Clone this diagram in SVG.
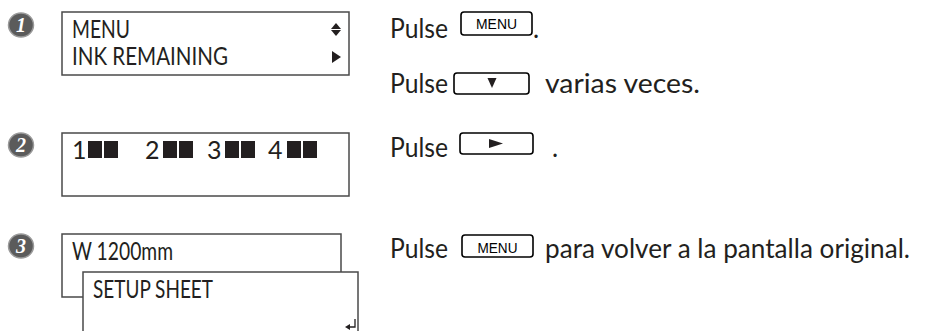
<svg xmlns="http://www.w3.org/2000/svg" width="928" height="331" viewBox="0 0 928 331">
<style>
.lcd{fill:#fff;stroke:#4a4a4a;stroke-width:1.5}
.lt{font-family:Lato,"Open Sans",sans-serif;font-size:25px;fill:#231f20}
.rt{font-family:Lato,"Open Sans",sans-serif;font-size:26px;fill:#231f20}
.key{fill:#fff;stroke:#000;stroke-width:1.6}
.kt{font-family:"Liberation Sans",Arial,sans-serif;font-size:15px;fill:#000}
.num{fill:#5b5b5b;stroke:#9a9a9a;stroke-width:1.5}
.nt{font-family:"Liberation Serif",serif;font-style:italic;font-weight:bold;font-size:20px;fill:#fff}
.blk{fill:#231f20}
</style>
<g id="step1">
<ellipse class="num" cx="21" cy="25" rx="12.5" ry="12"/>
<text class="nt" x="21" y="32" text-anchor="middle">1</text>
</g>
<g id="step2">
<ellipse class="num" cx="21" cy="145" rx="12.5" ry="12"/>
<text class="nt" x="21" y="152" text-anchor="middle">2</text>
</g>
<g id="step3">
<ellipse class="num" cx="21" cy="246" rx="12.5" ry="12"/>
<text class="nt" x="21" y="253" text-anchor="middle">3</text>
</g>
<g id="lcd1">
<rect class="lcd" x="62" y="12" width="287" height="63"/>
<text class="lt" x="72" y="38" textLength="58" lengthAdjust="spacingAndGlyphs">MENU</text>
<text class="lt" x="72" y="65" textLength="156" lengthAdjust="spacingAndGlyphs">INK REMAINING</text>
<polygon class="blk" points="336,23 331,29 341,29"/>
<polygon class="blk" points="331,30 341,30 336,36"/>
<polygon class="blk" points="332,51 332,63 341,57"/>
</g>
<g id="lcd2">
<rect class="lcd" x="62" y="133" width="287" height="63"/>
<text class="lt" x="72" y="159">1</text>
<rect class="blk" x="88" y="141" width="14" height="17"/>
<rect class="blk" x="104" y="141" width="14" height="17"/>
<text class="lt" x="145" y="159">2</text>
<rect class="blk" x="163" y="141" width="14" height="17"/>
<rect class="blk" x="179" y="141" width="14" height="17"/>
<text class="lt" x="207" y="159">3</text>
<rect class="blk" x="225" y="141" width="14" height="17"/>
<rect class="blk" x="241" y="141" width="14" height="17"/>
<text class="lt" x="268" y="159">4</text>
<rect class="blk" x="287" y="141" width="14" height="17"/>
<rect class="blk" x="303" y="141" width="14" height="17"/>
</g>
<g id="lcd3">
<path class="lcd" fill="none" d="M83,297 H62 V234 H341 V272"/>
<text class="lt" x="72" y="260" textLength="101" lengthAdjust="spacingAndGlyphs">W 1200mm</text>
<rect class="lcd" x="83" y="272" width="275" height="70"/>
<text class="lt" x="93" y="298" textLength="120" lengthAdjust="spacingAndGlyphs">SETUP SHEET</text>
<path d="M355,319 V327 H349" fill="none" stroke="#231f20" stroke-width="1.3"/>
<polygon class="blk" points="345,327 350,324 350,330"/>
</g>
<g id="instr1">
<text class="rt" x="390" y="38" textLength="58" lengthAdjust="spacingAndGlyphs">Pulse</text>
<rect class="key" x="461" y="12" width="71" height="23" rx="3"/>
<text class="kt" x="496.5" y="29" text-anchor="middle" textLength="41" lengthAdjust="spacingAndGlyphs">MENU</text>
<text class="rt" x="533" y="38">.</text>
</g>
<g id="instr1b">
<text class="rt" x="390" y="93" textLength="58" lengthAdjust="spacingAndGlyphs">Pulse</text>
<rect class="key" x="454" y="73" width="75" height="21" rx="3"/>
<polygon class="blk" points="487.5,78 496.5,78 492,88"/>
<text class="rt" x="545" y="93" textLength="155" lengthAdjust="spacingAndGlyphs">varias veces.</text>
</g>
<g id="instr2">
<text class="rt" x="390" y="157" textLength="58" lengthAdjust="spacingAndGlyphs">Pulse</text>
<rect class="key" x="460" y="133" width="73" height="21" rx="3"/>
<polygon class="blk" points="489,139 489,148 503,143.5"/>
<text class="rt" x="552" y="157">.</text>
</g>
<g id="instr3">
<text class="rt" x="390" y="258" textLength="58" lengthAdjust="spacingAndGlyphs">Pulse</text>
<rect class="key" x="462" y="235" width="71" height="22" rx="3"/>
<text class="kt" x="497.5" y="252.5" text-anchor="middle" textLength="40" lengthAdjust="spacingAndGlyphs">MENU</text>
<text class="rt" x="545" y="258" textLength="365" lengthAdjust="spacingAndGlyphs">para volver a la pantalla original.</text>
</g>
<g id="connectors"/>
</svg>
